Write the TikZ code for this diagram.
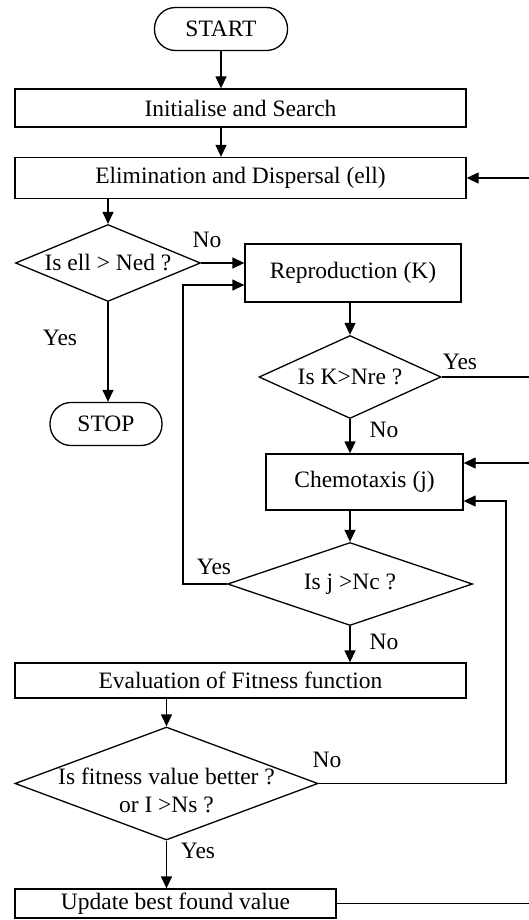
\documentclass[tikz,border=0pt]{standalone}
\usepackage{fontspec}
\setmainfont{Liberation Serif}
\usetikzlibrary{arrows.meta,shapes.geometric}

\begin{document}
\begin{tikzpicture}[x=1pt, y=-1pt, line width=1.3pt,
    font=\fontsize{23.5}{28}\selectfont,
    proc/.style={draw, rectangle, inner sep=0pt},
    term/.style={draw, rectangle, rounded corners=21pt, inner sep=0pt},
    dec/.style={draw, diamond, inner sep=0pt, align=center},
    arr/.style={-{Triangle[length=12pt,width=11pt]}}]
    \useasboundingbox (0,0) rectangle (529,920);

    \node[term, minimum width=133pt, minimum height=43pt] (start) at (221,29) {START};
    \node[proc, minimum width=451pt, minimum height=38pt] (init) at (240.5,108) {Initialise and Search};
    \node[proc, minimum width=451pt, minimum height=41pt] (elim) at (240.5,178) {Elimination and Dispersal (ell)};
    \node[dec, minimum width=185pt, minimum height=77pt] (ned) at (108,263) {\makebox[0pt]{Is ell > Ned ?}};
    \node[proc, minimum width=216pt, minimum height=58pt] (repro) at (353,273) {Reproduction (K)};
    \node[term, minimum width=112pt, minimum height=43pt] (stop) at (106,424) {STOP};
    \node[dec, minimum width=182pt, minimum height=83pt] (nre) at (350,377) {\makebox[0pt]{Is K>Nre ?}};
    \node[proc, minimum width=197pt, minimum height=56pt] (chemo) at (364.5,482) {Chemotaxis (j)};
    \node[dec, minimum width=245pt, minimum height=83pt] (nc) at (350,584) {\makebox[0pt]{Is j >Nc ?}};
    \node[proc, minimum width=451pt, minimum height=35pt] (eval) at (240.5,680.5) {Evaluation of Fitness function};
    \node[dec, minimum width=303pt, minimum height=113pt] (fit) at (166.5,783.5)
        {\raisebox{-15pt}[0pt][0pt]{\makebox[0pt]{Is fitness value better ?}}\\
         \raisebox{-15pt}[0pt][0pt]{\makebox[0pt]{or I >Ns ?}}};
    \node[proc, minimum width=321pt, minimum height=29pt] (upd) at (175.5,903.5) {Update best found value};

    \coordinate (r0) at (529,178);
    \coordinate (r1) at (529,377);
    \coordinate (r2) at (529,463);
    \coordinate (r3) at (529,903.5);
    \coordinate (lp) at (183,285);
    \coordinate (rr) at (506,501);

    \draw[arr] (start.south) -- (start.south |- init.north);
    \draw[arr] (init.south -| start.south) -- (elim.north -| start.south);
    \draw[arr] (elim.south -| ned.north) -- (ned.north);
    \draw[arr] (ned.east) -- (ned.east -| repro.west);
    \draw[arr] (ned.south) -- (ned.south |- stop.north);
    \draw[arr] (repro.south -| nre.north) -- (nre.north);
    \draw (nre.east) -- (r1);
    \draw[arr] (nre.south) -- (nre.south |- chemo.north);
    \draw[arr] (r0) -- (elim.east);
    \draw[arr] (r2) -- (r2 -| chemo.east);
    \draw[arr] (chemo.south -| nc.north) -- (nc.north);
    \draw[arr] (nc.west) -| (lp) -- (lp -| repro.west);
    \draw[arr] (nc.south) -- (nc.south |- eval.north);
    \draw[arr] (eval.south -| fit.north) -- (fit.north);
    \draw[arr] (fit.east) -| (rr) -- (rr -| chemo.east);
    \draw[arr] (fit.south) -- (fit.south |- upd.north);
    \draw (upd.east) -- (r3);

    \node (no1) at (207,240) {No};
    \node (yes1) at (60,338) {Yes};
    \node (yes2) at (460,362) {Yes};
    \node (no2) at (384,430) {No};
    \node (yes3) at (214,567) {Yes};
    \node (no3) at (384,642) {No};
    \node (no4) at (327,760) {No};
    \node (yes4) at (198,851) {Yes};
\end{tikzpicture}
\end{document}
